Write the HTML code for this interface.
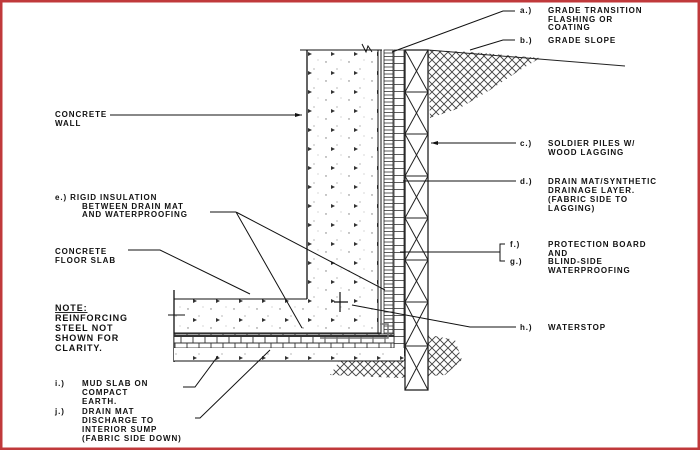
<!DOCTYPE html>
<html><head><meta charset="utf-8"><style>
html,body{margin:0;padding:0;background:#fff}
svg{display:block}
text{font-family:"Liberation Sans",sans-serif;font-weight:bold;font-size:8px;letter-spacing:0.9px;fill:#111}
</style></head><body>
<svg width="700" height="450" viewBox="0 0 700 450" xmlns="http://www.w3.org/2000/svg">
<defs>
<pattern id="hatch" width="8" height="8" patternUnits="userSpaceOnUse">
<rect width="8" height="8" fill="#fff"/>
<path d="M0 4 L4 0 M4 8 L8 4 M4 0 L8 4 M0 4 L4 8" stroke="#444" stroke-width="0.9"/>
</pattern>
<pattern id="ladder" width="10" height="3.5" patternUnits="userSpaceOnUse">
<rect width="10" height="3.5" fill="#fff"/><line x1="0" y1="0.5" x2="10" y2="0.5" stroke="#333" stroke-width="0.8"/>
</pattern>
<pattern id="ladder2" width="10" height="7" patternUnits="userSpaceOnUse">
<rect width="10" height="7" fill="#fff"/><line x1="0" y1="0.5" x2="10" y2="0.5" stroke="#333" stroke-width="0.8"/>
</pattern>
<pattern id="brick" width="12" height="14" patternUnits="userSpaceOnUse">
<rect width="12" height="14" fill="#fff"/>
<path d="M0 0.5H12M0 7H12M0 13.5H12M1 0V7M7 7V14" stroke="#333" stroke-width="0.9"/>
</pattern>
<pattern id="dots" width="23" height="19" patternUnits="userSpaceOnUse">
<rect width="23" height="19" fill="#fff"/>
<circle cx="4" cy="5" r="0.7" fill="#777"/><circle cx="15" cy="12" r="0.6" fill="#888"/><circle cx="19" cy="3" r="0.5" fill="#999"/>
<path d="M9 14l4 2-4 2z" fill="#333"/>
</pattern>
</defs>
<rect x="1" y="1" width="698" height="448" fill="none" stroke="#c0393b" stroke-width="3"/>
<!-- soil -->
<path d="M428 50 L470 52 L540 58 L520 70 L490 90 L460 108 L430 118 Z" fill="url(#hatch)"/>
<line x1="428" y1="50" x2="625" y2="66" stroke="#222"/>
<path d="M330 375 L340 360 L390 355 L430 335 L455 340 L462 360 L445 375 L400 378 Z" fill="url(#hatch)"/>
<!-- concrete wall & slab -->
<path d="M307 50 L378 50 L378 333 L174 333 L174 299 L307 299 Z" fill="url(#dots)"/>
<line x1="307" y1="50" x2="307" y2="299" stroke="#111" stroke-width="1.3"/>
<line x1="300" y1="50" x2="382" y2="50" stroke="#111"/>
<line x1="174" y1="299" x2="307" y2="299" stroke="#111"/>
<line x1="174" y1="333" x2="381" y2="333" stroke="#111"/>
<line x1="174" y1="290" x2="174" y2="362" stroke="#111" stroke-width="1.3"/>
<line x1="378" y1="50" x2="378" y2="336" stroke="#111"/>
<line x1="381" y1="50" x2="381" y2="336" stroke="#111"/>
<!-- wall layers -->
<rect x="384" y="50" width="9" height="286" fill="url(#ladder)" stroke="#222" stroke-width="0.8"/>
<rect x="394" y="50" width="10" height="306" fill="url(#ladder2)" stroke="#222" stroke-width="0.8"/>
<rect x="405" y="50" width="23" height="340" fill="#fff" stroke="#111" stroke-width="1.2"/>
<g stroke="#222" stroke-width="1">
<path d="M405 50L428 92M428 50L405 92M405 92H428M405 92L428 134M428 92L405 134M405 134H428M405 134L428 176M428 134L405 176M405 176H428M405 176L428 218M428 176L405 218M405 218H428M405 218L428 260M428 218L405 260M405 260H428M405 260L428 302M428 260L405 302M405 302H428M405 302L428 346M428 302L405 346M405 346H428M405 346L428 390M428 346L405 390"/>
</g>
<!-- slab bottom layers -->
<rect x="174" y="334" width="220" height="14" fill="url(#brick)" stroke="#222" stroke-width="0.8"/>
<rect x="174" y="348" width="230" height="13" fill="url(#dots)"/>
<line x1="174" y1="361" x2="404" y2="361" stroke="#111"/>
<path d="M380 324 L388 324 L388 338 L320 338" fill="none" stroke="#777" stroke-width="1.5"/>
<!-- waterstop -->
<path d="M340 292V312M334 302H348" stroke="#111" stroke-width="1.2"/>
<path d="M362 44 L366 52 L368 46 L372 52" stroke="#111" fill="none"/>
<!-- leaders -->
<g stroke="#111" stroke-width="1" fill="none">
<path d="M515 11 H503 L392 52"/>
<path d="M515 40 H503 L470 50"/>
<path d="M516 143 H431"/>
<path d="M516 181 H403"/>
<path d="M500 252 H400 M505 244 H500 V261 H505"/>
<path d="M516 327 H470 L352 305"/>
<path d="M110 115 H302"/>
<path d="M210 212 H236 L302 328 M236 212 L385 290"/>
<path d="M128 250 H160 L250 294"/>
<path d="M168 315 H185"/>
<path d="M183 387 H195 L218 356"/>
<path d="M195 418 H200 L270 350"/>
</g>
<path d="M431 143 l7 -2 v4z M302 115 l-7 -2 v4z" fill="#111"/>
<!-- labels -->
<text x="520" y="13">a.)</text><text x="548" y="13">GRADE TRANSITION</text>
<text x="548" y="22">FLASHING OR</text><text x="548" y="30">COATING</text>
<text x="520" y="43">b.)</text><text x="548" y="43">GRADE SLOPE</text>
<text x="520" y="146">c.)</text><text x="548" y="146">SOLDIER PILES W/</text>
<text x="548" y="155">WOOD LAGGING</text>
<text x="520" y="184">d.)</text><text x="548" y="184">DRAIN MAT/SYNTHETIC</text>
<text x="548" y="193">DRAINAGE LAYER.</text><text x="548" y="202">(FABRIC SIDE TO</text>
<text x="548" y="211">LAGGING)</text>
<text x="510" y="247">f.)</text><text x="548" y="247">PROTECTION BOARD</text>
<text x="548" y="256">AND</text>
<text x="510" y="264">g.)</text><text x="548" y="264">BLIND-SIDE</text>
<text x="548" y="273">WATERPROOFING</text>
<text x="520" y="330">h.)</text><text x="548" y="330">WATERSTOP</text>
<text x="55" y="117">CONCRETE</text><text x="55" y="126">WALL</text>
<text x="55" y="200">e.) RIGID INSULATION</text>
<text x="82" y="209">BETWEEN DRAIN MAT</text>
<text x="82" y="217">AND WATERPROOFING</text>
<text x="55" y="254">CONCRETE</text><text x="55" y="263">FLOOR SLAB</text>
<text x="55" y="311" style="font-size:9px;text-decoration:underline">NOTE:</text>
<text x="55" y="321" style="font-size:9px">REINFORCING</text>
<text x="55" y="331" style="font-size:9px">STEEL NOT</text>
<text x="55" y="341" style="font-size:9px">SHOWN FOR</text>
<text x="55" y="351" style="font-size:9px">CLARITY.</text>
<text x="55" y="386">i.)</text><text x="82" y="386">MUD SLAB ON</text>
<text x="82" y="395">COMPACT</text><text x="82" y="404">EARTH.</text>
<text x="55" y="414">j.)</text><text x="82" y="414">DRAIN MAT</text>
<text x="82" y="423">DISCHARGE TO</text>
<text x="82" y="432">INTERIOR SUMP</text>
<text x="82" y="441">(FABRIC SIDE DOWN)</text>
</svg>
</body></html>
